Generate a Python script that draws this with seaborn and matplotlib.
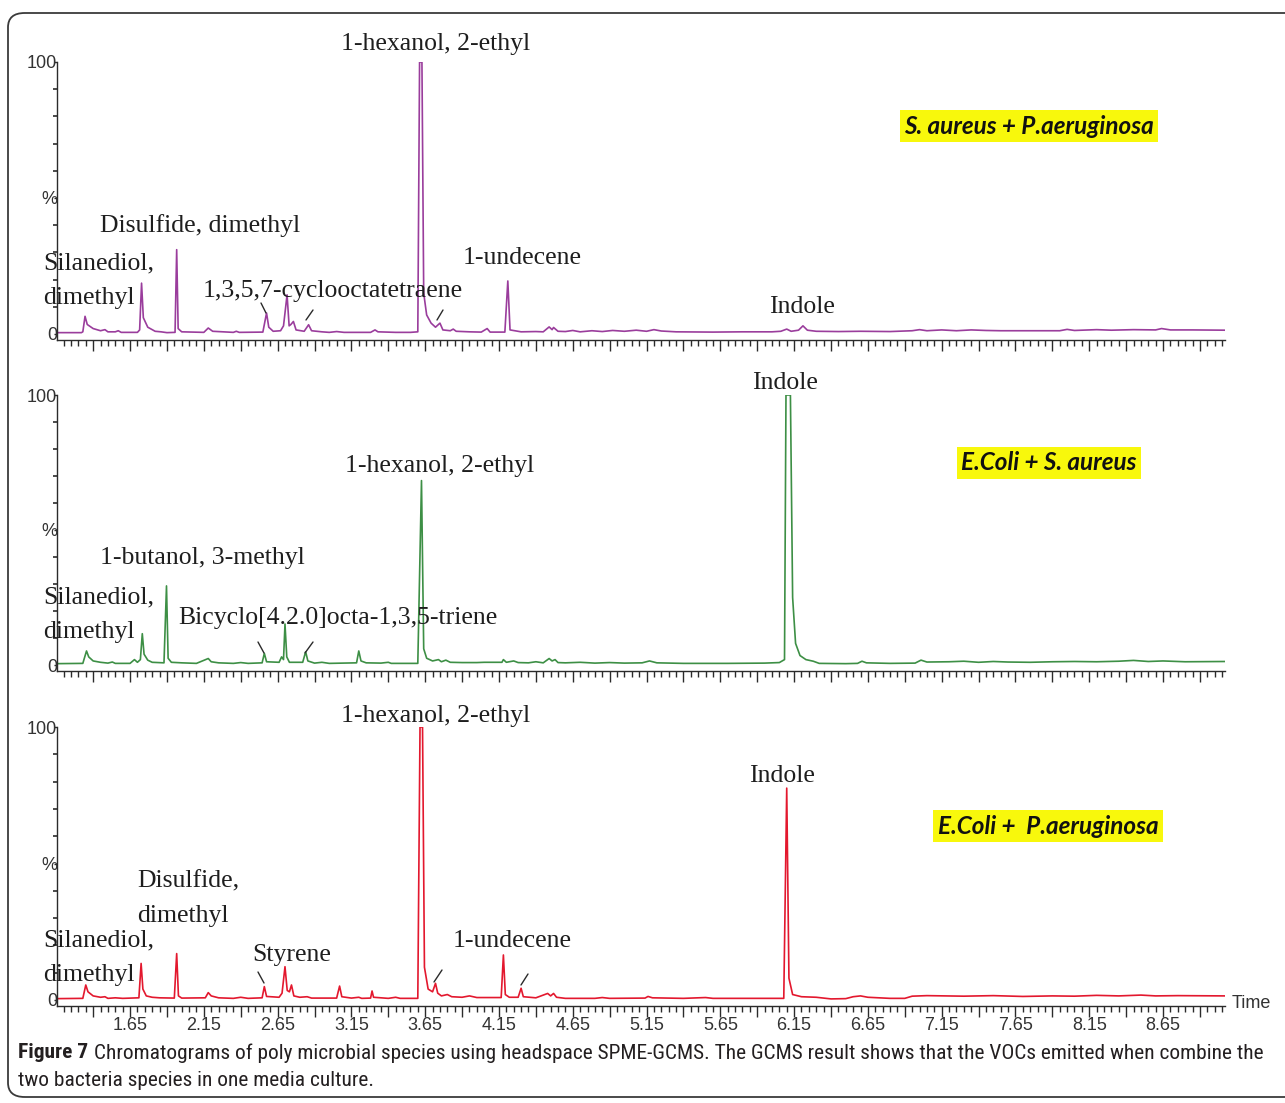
import numpy as np
import pandas as pd
import matplotlib
matplotlib.use("Agg")
import matplotlib.pyplot as plt
import seaborn as sns
from matplotlib.patches import FancyBboxPatch
from matplotlib.lines import Line2D
from matplotlib import font_manager as fm

# ---------------------------------------------------------------- data
# retention time (min) / relative abundance (%) of each chromatogram trace
time_sa_pa = [1.155, 1.32, 1.33, 1.345, 1.36, 1.40, 1.45, 1.48, 1.50, 1.55, 1.57, 1.59, 1.70,
              1.715, 1.728, 1.74, 1.77, 1.82, 1.86, 1.90, 1.955, 1.966, 1.976, 2.00, 2.15,
              2.18, 2.21, 2.35, 2.37, 2.39, 2.55, 2.575, 2.59, 2.62, 2.67, 2.69, 2.714, 2.728,
              2.74, 2.757, 2.775, 2.83, 2.86, 2.88, 2.95, 3.00, 3.05, 3.10, 3.28, 3.31, 3.33,
              3.45, 3.55, 3.60, 3.612, 3.628, 3.64, 3.66, 3.69, 3.72, 3.75, 3.77, 3.82, 3.84,
              3.86, 3.95, 4.03, 4.07, 4.09, 4.19, 4.21, 4.225, 4.30, 4.40, 4.45, 4.49, 4.51,
              4.52, 4.55, 4.60, 4.65, 4.70, 4.78, 4.85, 4.92, 5.00, 5.08, 5.15, 5.20, 5.25,
              5.35, 5.60, 5.80, 6.00, 6.06, 6.10, 6.13, 6.18, 6.21, 6.24, 6.30, 6.45, 6.60,
              6.80, 6.95, 7.00, 7.05, 7.15, 7.25, 7.35, 7.45, 7.55, 7.75, 7.95, 8.00, 8.05,
              8.20, 8.30, 8.45, 8.60, 8.64, 8.70, 8.85, 9.07]
int_sa_pa = [0.5, 0.5, 0.8, 6.5, 3.5, 2.0, 1.2, 1.6, 0.8, 0.8, 1.2, 0.6, 0.6,
             1.5, 18.7, 6.0, 2.5, 1.0, 0.8, 0.5, 0.6, 31.0, 2.0, 0.8, 0.6,
             2.2, 1.0, 0.6, 1.0, 0.6, 0.7, 7.7, 2.5, 1.0, 1.2, 3.0, 14.4, 3.0,
             3.5, 4.6, 1.5, 1.0, 3.4, 1.2, 0.8, 0.6, 0.9, 0.6, 0.6, 1.5, 0.8,
             0.6, 0.6, 0.8, 100.0, 100.0, 15.0, 7.0, 4.0, 2.5, 4.0, 1.5, 1.2, 1.8,
             1.0, 0.8, 0.7, 2.0, 0.7, 0.7, 19.5, 1.5, 0.8, 0.9, 0.8, 2.6, 1.6,
             2.4, 1.0, 0.9, 1.3, 0.8, 1.2, 0.9, 1.3, 1.0, 1.4, 1.0, 1.6, 1.1,
             0.8, 0.7, 0.8, 0.8, 1.0, 1.8, 1.0, 1.4, 3.0, 1.4, 1.0, 0.9, 1.0,
             0.9, 1.2, 1.6, 1.2, 1.5, 1.2, 1.5, 1.3, 1.2, 1.2, 1.2, 1.7, 1.3,
             1.6, 1.4, 1.6, 1.5, 2.0, 1.5, 1.5, 1.4]

time_ec_sa = [1.155, 1.33, 1.355, 1.37, 1.40, 1.45, 1.50, 1.53, 1.55, 1.65, 1.68, 1.70, 1.72,
              1.733, 1.745, 1.77, 1.80, 1.88, 1.897, 1.908, 1.93, 2.00, 2.10, 2.18, 2.20,
              2.25, 2.35, 2.40, 2.45, 2.545, 2.56, 2.575, 2.66, 2.677, 2.69, 2.70, 2.712,
              2.73, 2.82, 2.84, 2.855, 2.90, 2.95, 3.00, 3.185, 3.20, 3.215, 3.25, 3.35,
              3.40, 3.42, 3.60, 3.625, 3.64, 3.66, 3.70, 3.74, 3.76, 3.79, 3.82, 3.90, 4.00,
              4.05, 4.17, 4.18, 4.20, 4.25, 4.28, 4.35, 4.40, 4.45, 4.49, 4.51, 4.53, 4.55,
              4.60, 4.70, 4.80, 4.90, 5.00, 5.12, 5.17, 5.22, 5.40, 5.70, 5.95, 6.05, 6.085,
              6.095, 6.125, 6.14, 6.16, 6.19, 6.23, 6.28, 6.32, 6.50, 6.58, 6.61, 6.64, 6.80,
              6.97, 7.01, 7.05, 7.20, 7.30, 7.40, 7.50, 7.60, 7.75, 7.90, 8.05, 8.20, 8.35,
              8.45, 8.55, 8.65, 8.80, 9.07]
int_ec_sa = [0.5, 0.6, 5.2, 3.0, 1.5, 1.0, 0.7, 1.1, 0.6, 0.6, 2.0, 1.0, 2.0,
             11.6, 4.0, 1.8, 1.0, 0.8, 29.3, 2.5, 1.0, 0.8, 0.6, 2.4, 1.2,
             0.8, 0.6, 0.9, 0.6, 0.8, 4.3, 1.2, 1.0, 3.0, 2.0, 15.2, 3.0,
             1.0, 1.0, 4.9, 1.5, 0.7, 1.0, 0.6, 0.8, 5.2, 1.5, 0.8, 0.7,
             1.0, 0.6, 0.6, 68.3, 6.0, 2.5, 1.5, 2.0, 1.2, 1.8, 1.0, 0.9, 0.9,
             1.0, 1.0, 2.0, 1.0, 1.5, 0.9, 0.8, 1.2, 0.8, 2.4, 1.5, 2.0, 0.9,
             0.8, 1.0, 0.7, 0.9, 0.7, 0.8, 1.5, 0.8, 0.6, 0.6, 0.7, 0.9, 2.0,
             100.0, 100.0, 25.0, 8.0, 3.5, 2.0, 1.4, 0.6, 0.5, 0.6, 1.4, 0.8, 0.6,
             0.7, 1.8, 1.1, 1.2, 1.4, 1.0, 1.3, 1.1, 1.0, 1.2, 1.3, 1.2, 1.4,
             1.7, 1.3, 1.5, 1.2, 1.3]

time_ec_pa = [1.155, 1.33, 1.35, 1.365, 1.40, 1.45, 1.48, 1.50, 1.55, 1.60, 1.71, 1.725, 1.737,
              1.76, 1.80, 1.85, 1.95, 1.966, 1.978, 2.00, 2.16, 2.18, 2.20, 2.25, 2.35, 2.40,
              2.45, 2.545, 2.56, 2.575, 2.66, 2.68, 2.70, 2.715, 2.73, 2.744, 2.76, 2.80,
              2.85, 2.88, 3.05, 3.07, 3.085, 3.15, 3.20, 3.22, 3.28, 3.29, 3.30, 3.40, 3.45,
              3.48, 3.60, 3.615, 3.632, 3.645, 3.67, 3.70, 3.72, 3.735, 3.76, 3.80, 3.83,
              3.90, 3.95, 4.00, 4.165, 4.18, 4.193, 4.22, 4.28, 4.30, 4.315, 4.40, 4.48, 4.50,
              4.52, 4.54, 4.60, 4.80, 4.85, 4.90, 5.14, 5.16, 5.19, 5.40, 5.55, 5.60, 6.08,
              6.10, 6.115, 6.14, 6.20, 6.30, 6.40, 6.50, 6.55, 6.60, 6.65, 6.80, 6.90, 6.95,
              7.05, 7.30, 7.50, 7.70, 7.90, 8.05, 8.20, 8.35, 8.50, 8.60, 8.75, 9.07]
int_ec_pa = [0.5, 0.6, 5.5, 3.0, 1.5, 1.0, 1.2, 0.6, 0.8, 0.6, 0.8, 13.4, 4.0,
             1.5, 1.0, 0.8, 0.7, 17.0, 1.5, 0.7, 0.8, 2.7, 1.5, 0.8, 0.6, 1.0,
             0.6, 0.8, 4.9, 1.3, 1.0, 2.5, 12.2, 3.5, 3.0, 5.5, 1.5, 1.0,
             1.2, 0.7, 0.7, 5.1, 1.2, 0.7, 1.0, 0.6, 0.7, 3.3, 1.0, 0.6, 1.0,
             0.6, 0.6, 100.0, 100.0, 12.0, 4.0, 3.0, 6.1, 2.5, 1.5, 2.0, 1.2,
             1.0, 1.5, 0.9, 0.9, 16.5, 2.0, 1.0, 1.0, 4.3, 1.2, 0.8, 2.4, 1.5,
             2.4, 1.0, 0.6, 0.6, 0.9, 0.6, 0.7, 1.3, 0.8, 0.6, 0.9, 0.6, 0.6,
             77.6, 8.0, 2.0, 1.2, 1.0, 0.4, 0.5, 1.2, 1.5, 1.0, 0.6, 0.6, 1.4,
             1.6, 1.4, 1.6, 1.3, 1.5, 1.4, 1.7, 1.5, 1.8, 1.5, 1.6, 1.5]

samples = ["S. aureus + P.aeruginosa", "E.Coli + S. aureus", "E.Coli +  P.aeruginosa"]
traces = [(time_sa_pa, int_sa_pa), (time_ec_sa, int_ec_sa), (time_ec_pa, int_ec_pa)]
colors = ["#9a3d9c", "#3d8f45", "#e3182e"]

tick_labels = ["1.65", "2.15", "2.65", "3.15", "3.65", "4.15", "4.65", "5.15",
               "5.65", "6.15", "6.65", "7.15", "7.65", "8.15", "8.65"]

# compound labels per panel: (text lines, left px, centre-y px)
compounds = [
    [(["1-hexanol, 2-ethyl"], 341, 44), (["Disulfide, dimethyl"], 100, 226),
     (["Silanediol,", "dimethyl"], 43, 263), (["1,3,5,7-cyclooctatetraene"], 203, 291),
     (["1-undecene"], 463, 258), (["Indole"], 769, 307)],
    [(["Indole"], 752, 383), (["1-hexanol, 2-ethyl"], 345, 466),
     (["1-butanol, 3-methyl"], 100, 558), (["Silanediol,", "dimethyl"], 43, 597),
     (["Bicyclo[4.2.0]octa-1,3,5-triene"], 178, 618)],
    [(["1-hexanol, 2-ethyl"], 341, 716), (["Indole"], 749, 776),
     (["Disulfide,", "dimethyl"], 137, 881), (["Silanediol,", "dimethyl"], 43, 940),
     (["Styrene"], 252, 955), (["1-undecene"], 453, 941)],
]
# little leader strokes next to minor peaks (pixel end points)
leaders = [((261, 303), (266, 313)), ((306, 320), (313, 310)), ((437, 320), (443, 310)),
           ((258, 642), (264, 653)), ((305, 653), (313, 642)),
           ((258, 972), (264, 983)), ((434, 982), (442, 970)), ((521, 985), (528, 974))]

caption_bold = "Figure 7"
caption_lines = ["Chromatograms of poly microbial species using headspace SPME-GCMS. The GCMS result "
                 "shows that the VOCs emitted when combine the",
                 "two bacteria species in one media culture."]

# ---------------------------------------------------------------- style
W, H, DPI = 1285, 1103, 100
sns.set_theme(style="white")
plt.rcParams["font.family"] = ["Liberation Sans", "DejaVu Sans"]

fonts = fm.fontManager.ttflist
installed = {f.name for f in fonts}

# pick a narrow sans for the caption when one is present
cap_family, cap_stretch = "Liberation Sans", "normal"
for name in ["Liberation Sans Narrow", "Roboto Condensed", "Open Sans Condensed",
             "DejaVu Sans Condensed", "Noto Sans Condensed"]:
    if name in installed:
        cap_family = name
        break
else:
    for f in fonts:
        if f.name in ("DejaVu Sans", "Noto Sans", "Open Sans") and \
                str(f.stretch) in ("condensed", "semi-condensed", "extra-condensed"):
            cap_family, cap_stretch = f.name, str(f.stretch)
            break

SERIF = ["Liberation Serif", "DejaVu Serif"]
HUMAN = "Lato" if "Lato" in installed else "Open Sans"

fig = plt.figure(figsize=(W / DPI, H / DPI), dpi=DPI)
fig.patch.set_facecolor("white")


def fx(x):
    return x / W


def fy(y):
    return 1 - y / H


# outer rounded frame
frame = FancyBboxPatch((fx(8), fy(1097)), fx(1310) - fx(8), fy(13) - fy(1097),
                       boxstyle="round,pad=0,rounding_size=0.013",
                       transform=fig.transFigure, facecolor="none",
                       edgecolor="#3a3a3a", linewidth=1.3)
fig.patches.append(frame)

X0, X1 = 1.155, 9.07
Y0 = -2.2
panels = [(62, 334), (395, 665), (727, 1000)]
legend_pos = [(1029, 126), (1049, 463), (1048, 826)]
AX_L, AX_R = 57, 1225

for k, ((y100, y0), (tt, ii), col) in enumerate(zip(panels, traces, colors)):
    ppu = (y0 - y100) / 100.0
    ybot = y0 - Y0 * ppu
    ax = fig.add_axes([fx(AX_L), fy(ybot), fx(AX_R) - fx(AX_L), (ybot - y100) / H])
    df = pd.DataFrame({"time": tt, "abundance": ii})
    sns.lineplot(data=df, x="time", y="abundance", ax=ax, color=col, lw=1.2,
                 estimator=None, sort=False)
    ax.set_xlim(X0, X1)
    ax.set_ylim(Y0, 100)
    ax.set_xlabel("")
    ax.set_ylabel("")
    for s in ("top", "right"):
        ax.spines[s].set_visible(False)
    for s in ("left", "bottom"):
        ax.spines[s].set_color("#2b2b2b")
        ax.spines[s].set_linewidth(1.0)
    ax.spines["left"].set_bounds(Y0, 100)
    ax.patch.set_alpha(0)

    major = np.round(np.arange(1.40, X1, 0.25), 2)
    ax.set_xticks(major)
    if k == 2:
        ax.set_xticklabels([f"{m:.2f}" if f"{m:.2f}" in tick_labels else "" for m in major],
                           fontsize=13, color="#333333")
    else:
        ax.set_xticklabels([])
    ax.set_xticks(np.round(np.arange(1.20, X1, 0.05), 2), minor=True)
    ax.tick_params(axis="x", which="major", direction="out", length=8, width=1.0,
                   color="#2b2b2b", pad=0, bottom=True)
    ax.tick_params(axis="x", which="minor", direction="out", length=4, width=1.0,
                   color="#2b2b2b", bottom=True)

    ax.set_yticks([0, 50, 100])
    ax.set_yticklabels(["0", "%", "100"], fontsize=13, color="#333333")
    ax.set_yticks(np.arange(10, 100, 10), minor=True)
    ax.tick_params(axis="y", which="major", direction="out", length=2, width=1.0,
                   color="#2b2b2b", pad=-2, left=True)
    ax.tick_params(axis="y", which="minor", direction="out", length=3, width=1.2,
                   color="#2b2b2b", left=True)

    # compound names
    for lines, xl, yc in compounds[k]:
        for j, line in enumerate(lines):
            fig.text(fx(xl), fy(yc + j * 35), line, family=SERIF, fontsize=18.5,
                     ha="left", va="center", color="#1e1e1e")

    # sample tag on yellow highlight
    lx, ly = legend_pos[k]
    fig.text(fx(lx), fy(ly), samples[k], family=HUMAN, fontsize=17.5, fontweight="bold",
             fontstyle="italic", ha="center", va="center", color="#111111",
             bbox=dict(boxstyle="square,pad=0.18", facecolor="#f8f80c", edgecolor="none"))

for (xa, ya), (xb, yb) in leaders:
    fig.add_artist(Line2D([fx(xa), fx(xb)], [fy(ya), fy(yb)], transform=fig.transFigure,
                          color="#2a2a2a", lw=1.0))

fig.text(fx(1232), fy(1004), "Time", fontsize=13, ha="left", va="center", color="#333333")

# caption, sized to run across the frame
fig.canvas.draw()
renderer = fig.canvas.get_renderer()
cap_kw = dict(family=cap_family, fontstretch=cap_stretch, va="center", ha="left",
              color="#231f20")
size = 16.0
for _ in range(4):
    tb = fig.text(fx(18), fy(1053), caption_bold, fontsize=size, fontweight="bold", **cap_kw)
    bb = tb.get_window_extent(renderer)
    tr = fig.text((bb.x1 + size * 0.35) / W, fy(1053), caption_lines[0], fontsize=size,
                  **cap_kw)
    rb = tr.get_window_extent(renderer)
    total = rb.x1 - 18
    tb.remove()
    tr.remove()
    size *= (1268 - 18) / total
tb = fig.text(fx(18), fy(1053), caption_bold, fontsize=size, fontweight="bold", **cap_kw)
bb = tb.get_window_extent(renderer)
fig.text((bb.x1 + size * 0.35) / W, fy(1053), caption_lines[0], fontsize=size, **cap_kw)
fig.text(fx(18), fy(1080), caption_lines[1], fontsize=size, **cap_kw)

fig.savefig("out.png", dpi=DPI, facecolor="white")
